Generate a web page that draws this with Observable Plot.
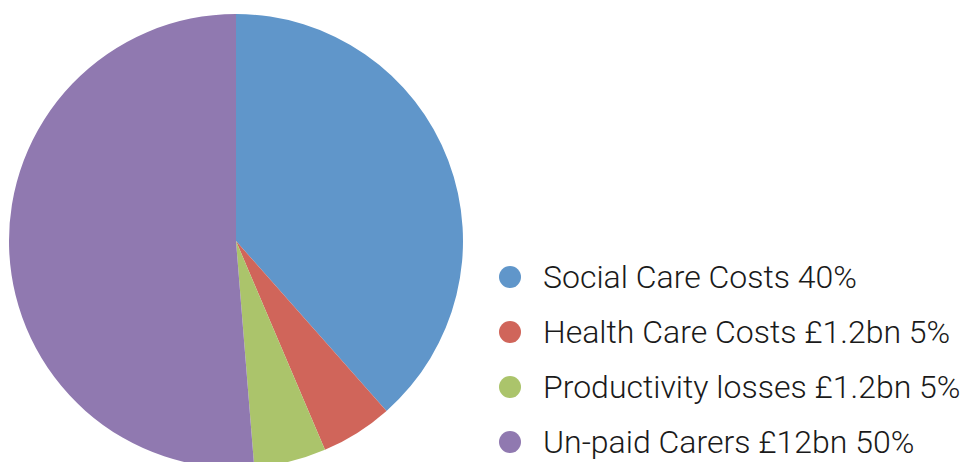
<!DOCTYPE html>
<html>
<head>
<meta charset="utf-8">
<script src="https://cdn.jsdelivr.net/npm/d3@7"></script>
<script src="https://cdn.jsdelivr.net/npm/@observablehq/plot@0.6"></script>
<style>
  html, body { margin: 0; padding: 0; background: #fff; overflow: hidden; }
  #wrap { position: relative; width: 963px; height: 462px; }
  #legend { position: absolute; left: 499px; top: 249px; font-family: "Roboto", "Liberation Sans", sans-serif; font-weight: 300; font-size: 32px; color: #1a1a1a; white-space: nowrap; }
  .item { display: flex; align-items: center; height: 55px; }
  .sw { width: 22px; height: 22px; border-radius: 50%; margin-right: 22px; flex: none; }
</style>
</head>
<body>
<div id="wrap"></div>
<script>
// Data (values in £bn; labels as printed)
const categories = ["Social Care Costs", "Health Care Costs", "Productivity losses", "Un-paid Carers"];
const values = [9, 1.2, 1.2, 12];
const labels = ["Social Care Costs 40%", "Health Care Costs £1.2bn 5%", "Productivity losses £1.2bn 5%", "Un-paid Carers £12bn 50%"];
const colors = ["#6096ca", "#d0655a", "#abc46b", "#9079b0"];

const data = categories.map((c, i) => ({name: c, value: values[i], label: labels[i]}));
const arcs = d3.pie().sort(null).value(d => d.value)(data);

const W = 963, H = 462, cx = 236, cy = 241, R = 227;

const chart = Plot.plot({
  width: W,
  height: H,
  margin: 0,
  style: {overflow: "visible", background: "white"},
  x: {domain: [-cx / R, (W - cx) / R], axis: null},
  y: {domain: [-(H - cy) / R, cy / R], axis: null},
  color: {domain: categories, range: colors},
  marks: [
    Plot.dot(arcs, {
      x: () => 0,
      y: () => 0,
      fill: d => d.data.name,
      render(index, scales, vals) {
        const g = d3.create("svg:g");
        const ox = scales.x(0), oy = scales.y(0);
        const r = scales.x(1) - scales.x(0);
        const arc = d3.arc().innerRadius(0).outerRadius(r);
        g.selectAll("path")
          .data(index)
          .join("path")
          .attr("transform", `translate(${ox},${oy})`)
          .attr("d", i => arc(arcs[i]))
          .attr("fill", i => vals.fill[i]);
        return g.node();
      }
    })
  ]
});

const wrap = document.getElementById("wrap");
wrap.appendChild(chart);

const legend = document.createElement("div");
legend.id = "legend";
const color = chart.scale("color");
data.forEach(d => {
  const item = document.createElement("div");
  item.className = "item";
  const sw = document.createElement("span");
  sw.className = "sw";
  sw.style.background = color.apply(d.name);
  const t = document.createElement("span");
  t.textContent = d.label;
  item.appendChild(sw);
  item.appendChild(t);
  legend.appendChild(item);
});
wrap.appendChild(legend);
</script>
</body>
</html>
